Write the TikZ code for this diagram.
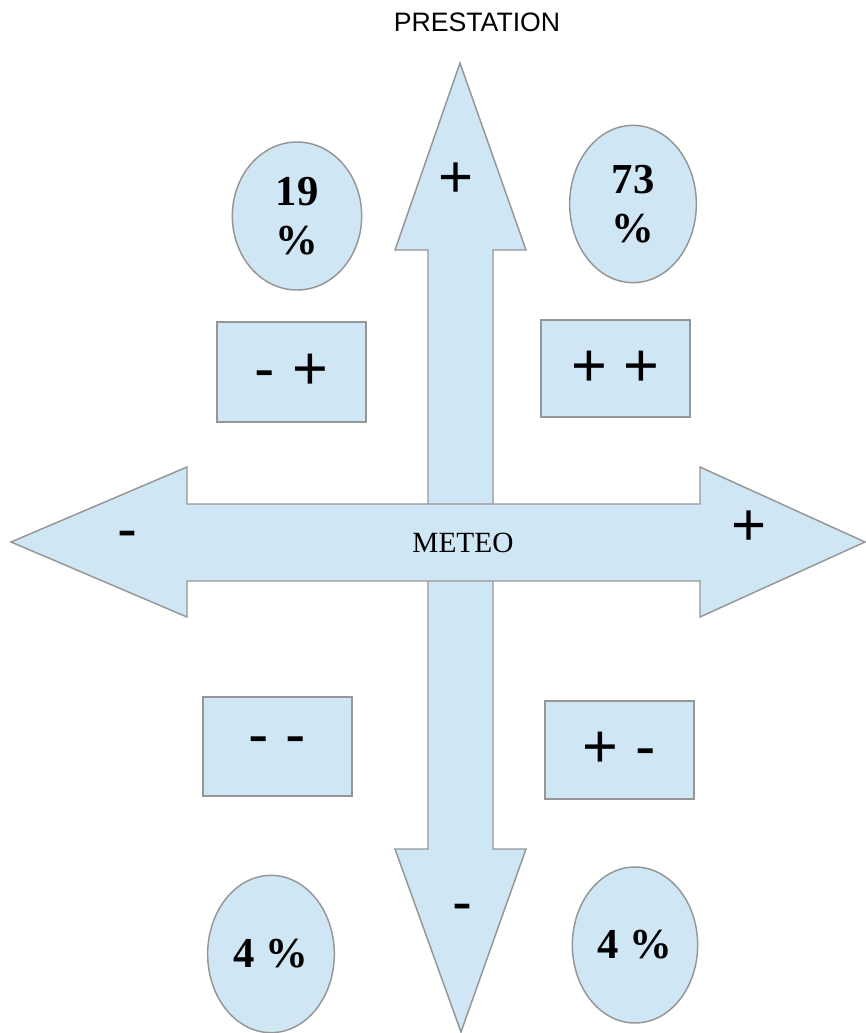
\documentclass[tikz,border=0pt]{standalone}
\usepackage{fontspec}
\setmainfont{Liberation Serif}
\newfontfamily\arialfont{Liberation Sans}
\usepackage{tikz}
\usetikzlibrary{shapes.geometric}
\definecolor{azzurro}{RGB}{207,230,244}
\definecolor{bordo}{RGB}{150,150,150}
\tikzset{
	forma/.style={fill=azzurro, draw=bordo, line width=1.1pt},
	bulle/.style={forma, ellipse, inner sep=0pt, align=center, font=\fontsize{32}{37}\selectfont\bfseries},
	caselle/.style={forma, rectangle, inner sep=0pt, minimum width=112pt, font=\arialfont\fontsize{46}{50}\selectfont},
	segno/.style={font=\arialfont\fontsize{45}{50}\selectfont}
}

\begin{document}
\begin{tikzpicture}[x=0.75pt,y=-0.75pt]
	\useasboundingbox (0,0) rectangle (866,1033);
	%\draw [help lines, step=100] (0,0) grid (866,1033);
	%Freccia verticale
	\draw [forma] (460,63) -- (526,250) -- (493,250) -- (493,849) -- (526,849)
		-- (461,1032) -- (395,849) -- (428,849) -- (428,250) -- (395,250) -- cycle;
	%Freccia orizzontale
	\draw [forma] (11,542) -- (187,467) -- (187,504) -- (700,504) -- (700,467)
		-- (865,542) -- (700,617) -- (700,581) -- (187,581) -- (187,617) -- cycle;
	%Titoli
	\node (prestation) at (477,22) {\arialfont\fontsize{20}{24}\selectfont PRESTATION};
	\node (meteo) at (463,543) {\fontsize{22}{26}\selectfont METEO};
	%Segni sulle frecce
	\node [segno] (su) at (456,180) {+};
	\node [segno] (giu) at (462,913) {-};
	\node [segno] (sx) at (127,540) {-};
	\node [segno] (dx) at (749,528) {+};
	%Percentuali
	\node [bulle, minimum width=97pt, minimum height=111pt] (p19) at (297,216) {19\\\%};
	\node [bulle, minimum width=95pt, minimum height=118pt] (p73) at (633,204) {73\\\%};
	\node [bulle, minimum width=95pt, minimum height=118pt] (p4a) at (271,954) {4 \%};
	\node [bulle, minimum width=94pt, minimum height=117pt] (p4b) at (635,945) {4 \%};
	%Quadranti
	\node [caselle, minimum height=75pt] (mp) at (291.5,372) {- +};
	\node [caselle, minimum height=73pt] (pp) at (615.5,368.5) {+ +};
	\node [caselle, minimum height=74pt] (mm) at (277.5,746.5) {- -};
	\node [caselle, minimum height=73.5pt] (pm) at (619.5,750) {+ -};
\end{tikzpicture}
\end{document}
